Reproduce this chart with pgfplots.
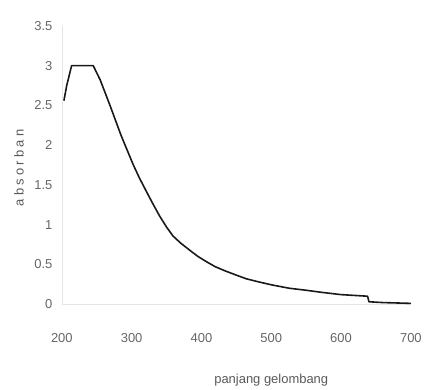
\documentclass[border=0pt]{standalone}
\usepackage{pgfplots}
\pgfplotsset{compat=1.18}
\usepackage{fontspec}
\setmainfont{Liberation Sans}
\begin{document}
\begin{tikzpicture}[x=1pt,y=1pt]
\begin{axis}[
  at={(0,0)}, anchor=south west,
  scale only axis, width=350pt, height=279pt,
  xmin=200, xmax=700, ymin=0, ymax=3.5,
  xtick={200,300,...,700}, ytick={0,0.5,...,3.5},
  axis x line*=bottom, axis y line*=left,
  axis line style={gray!20, line width=0.6pt},
  tick style={draw=none},
  tick label style={font=\fontsize{13}{15}\selectfont, text=black!60},
  /pgf/number format/assume math mode=true,
  yticklabel style={xshift=-6pt},
  xticklabel style={yshift=-26pt},
  xlabel={panjang gelombang},
  ylabel={absorban},
  label style={text=black!65},
  xlabel style={font=\fontsize{13}{15}\selectfont, at={(rel axis cs:0.6,0)}, anchor=north, yshift=-67pt},
  ylabel style={font=\fontsize{13}{15}\selectfont\addfontfeature{LetterSpace=25}, at={(rel axis cs:0,0.49)}, anchor=center, yshift=43pt},
  clip=false,
]
\addplot[black!90, line width=1.6pt, line join=round] coordinates {
(203,2.56) (207,2.75) (214,3.00) (245,3.00) (255,2.82) (269,2.50)
(285,2.12) (302,1.76) (311,1.59) (321,1.42) (330,1.27) (340,1.11) (350,0.97)
(359,0.86) (370,0.77) (383,0.68) (395,0.60) (407,0.535) (420,0.47) (435,0.415)
(450,0.365) (464,0.32) (482,0.28) (502,0.24) (526,0.20) (550,0.175)
(571,0.15) (600,0.12) (638,0.10) (640,0.03) (660,0.02) (700,0.01)
};
\end{axis}
\path[use as bounding box] (-62,-86) rectangle (363,305);
\end{tikzpicture}
\end{document}
